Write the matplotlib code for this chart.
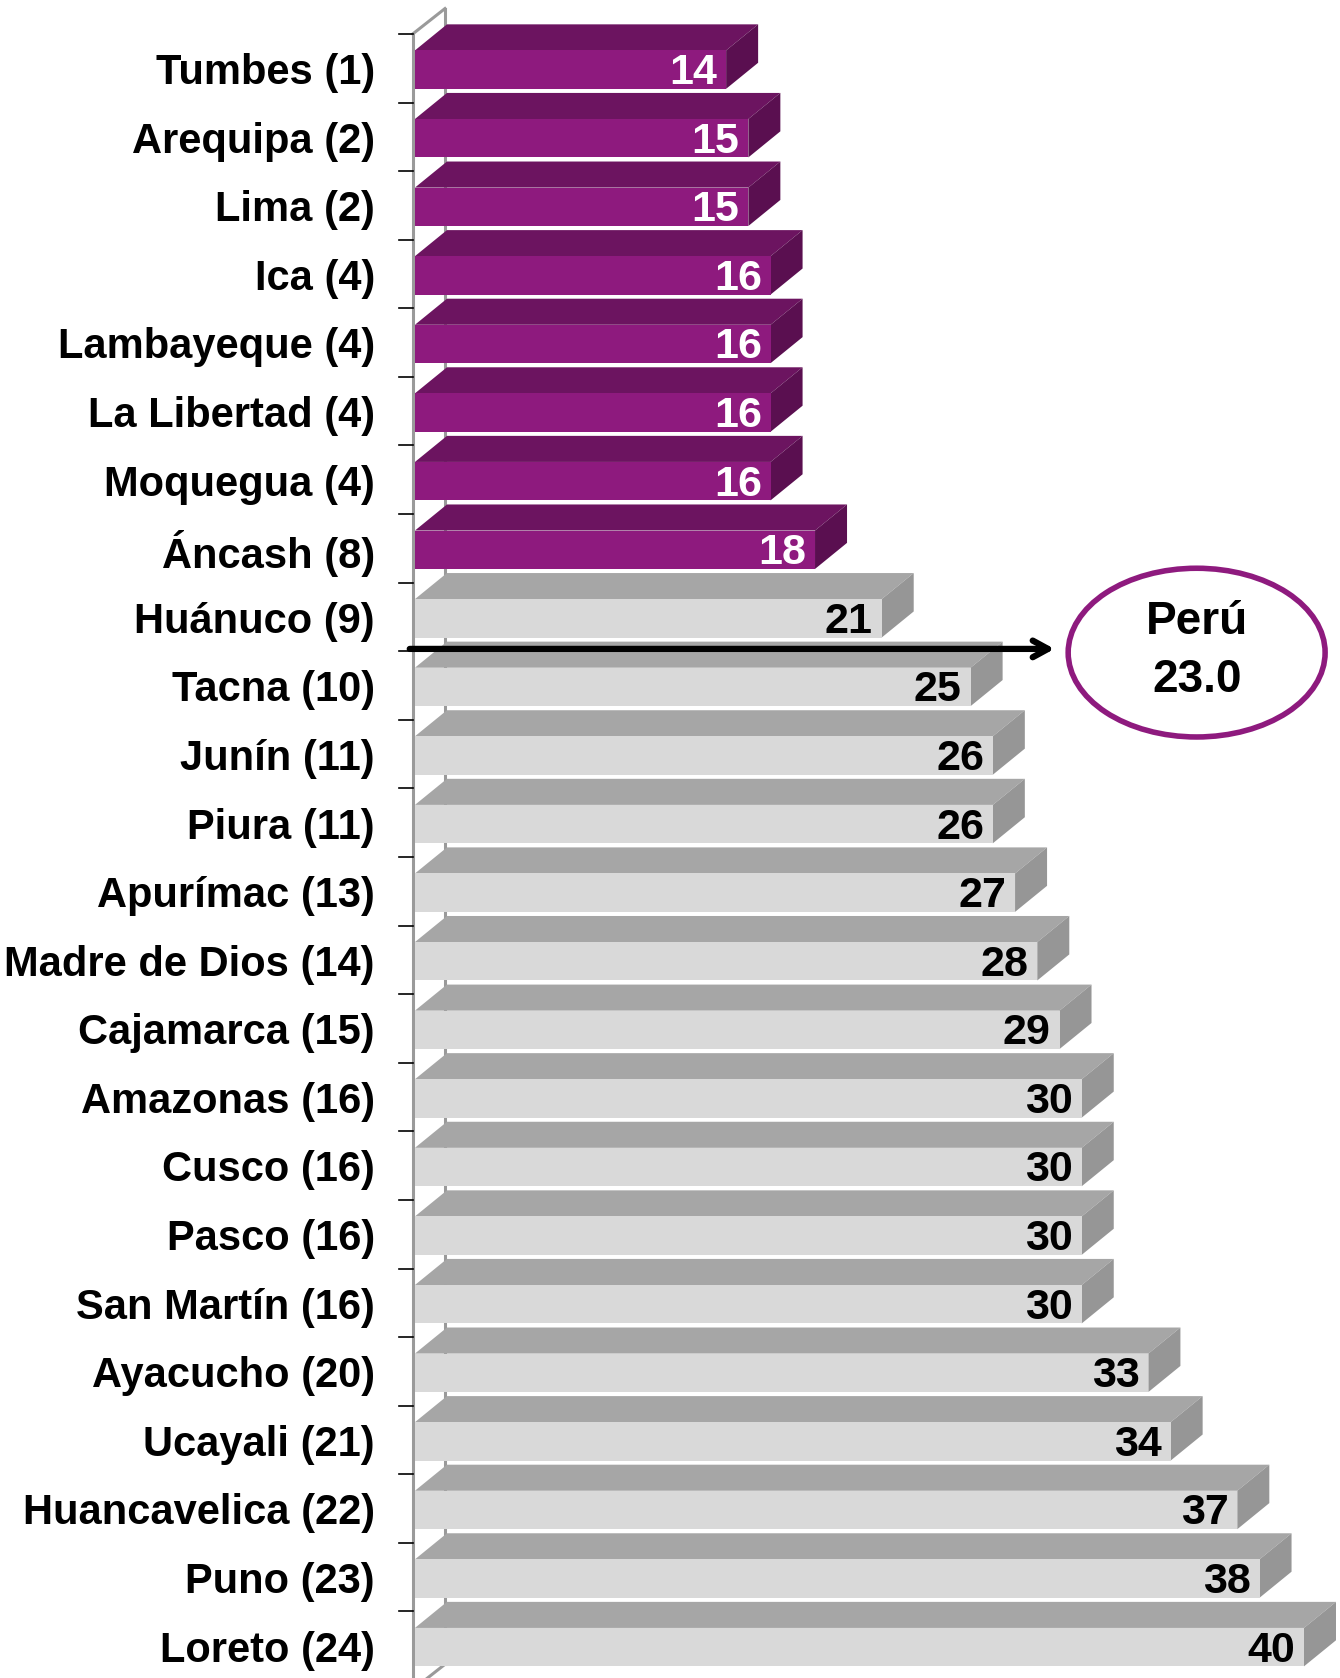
import matplotlib.pyplot as plt
from matplotlib.patches import Polygon, Ellipse

# datos
regiones = ['Tumbes (1)', 'Arequipa (2)', 'Lima (2)', 'Ica (4)', 'Lambayeque (4)',
            'La Libertad (4)', 'Moquegua (4)', 'Áncash (8)', 'Huánuco (9)', 'Tacna (10)',
            'Junín (11)', 'Piura (11)', 'Apurímac (13)', 'Madre de Dios (14)',
            'Cajamarca (15)', 'Amazonas (16)', 'Cusco (16)', 'Pasco (16)',
            'San Martín (16)', 'Ayacucho (20)', 'Ucayali (21)', 'Huancavelica (22)',
            'Puno (23)', 'Loreto (24)']
valores = [14, 15, 15, 16, 16, 16, 16, 18, 21, 25, 26, 26, 27, 28, 29, 30, 30, 30,
           30, 33, 34, 37, 38, 40]
n_destacados = 8
peru = 23.0

# colores
morado = ('#8E1A7E', '#6C1460', '#5A0F50')   # frente, arriba, lado
gris = ('#D9D9D9', '#A6A6A6', '#969696')
fuente = ['Liberation Sans', 'DejaVu Sans']

fig = plt.figure(figsize=(13.4, 16.78), dpi=100)
ax = fig.add_axes([0, 0, 1, 1])
ax.set_xlim(-18.67, 41.62)
ax.set_ylim(23.45, -1.015)
ax.axis('off')

h = 0.56      # alto de la cara frontal
dx = 1.44     # profundidad en x
dy = 0.38     # profundidad en y

# eje
ax.plot([-0.1, -0.1], [-0.52, 23.45], color='#9A9A9A', lw=2.2, zorder=1)
ax.plot([-0.1, 1.35], [-0.52, -0.89], color='#9A9A9A', lw=2.2, zorder=1)
ax.plot([1.35, 1.35], [-0.89, 23.25], color='#9A9A9A', lw=2.2, zorder=0)
ax.plot([1.35, -0.1], [23.25, 23.62], color='#9A9A9A', lw=2.2, zorder=0)
for k in range(len(valores)):
    ax.plot([-0.7, -0.1], [k - 0.52, k - 0.52], color='black', lw=1.2, zorder=1)

for i, (reg, v) in enumerate(zip(regiones, valores)):
    c = morado if i < n_destacados else gris
    top, bot = i - h / 2, i + h / 2
    ax.add_patch(Polygon([(0, top), (v, top), (v + dx, top - dy), (dx, top - dy)],
                         closed=True, facecolor=c[1], edgecolor='none', zorder=2))
    ax.add_patch(Polygon([(v, top), (v + dx, top - dy), (v + dx, bot - dy), (v, bot)],
                         closed=True, facecolor=c[2], edgecolor='none', zorder=2))
    ax.add_patch(Polygon([(0, top), (v, top), (v, bot), (0, bot)],
                         closed=True, facecolor=c[0], edgecolor='none', zorder=3))
    ax.text(v - 0.4, i + 0.05, f'{v}', ha='right', va='center', fontsize=31,
            fontweight='bold', color='white' if i < n_destacados else 'black',
            family=fuente, zorder=4)
    ax.text(-1.8, i + 0.05, reg, ha='right', va='center', fontsize=30,
            fontweight='bold', color='black', family=fuente, zorder=4)

# flecha Perú
ax.annotate('', xy=(28.9, 8.446), xytext=(-0.36, 8.446),
            arrowprops=dict(arrowstyle='->,head_length=1.1,head_width=0.6',
                            lw=4.5, color='black'), zorder=5)
ax.add_patch(Ellipse((35.17, 8.5), 11.56, 2.46, facecolor='white',
                     edgecolor='#8E1A7E', lw=4, zorder=5))
ax.text(35.17, 8.05, 'Perú', ha='center', va='center', fontsize=33,
        fontweight='bold', family=fuente, zorder=6)
ax.text(35.17, 8.9, f'{peru:.1f}', ha='center', va='center', fontsize=33,
        fontweight='bold', family=fuente, zorder=6)

fig.savefig('out.png', dpi=100)
